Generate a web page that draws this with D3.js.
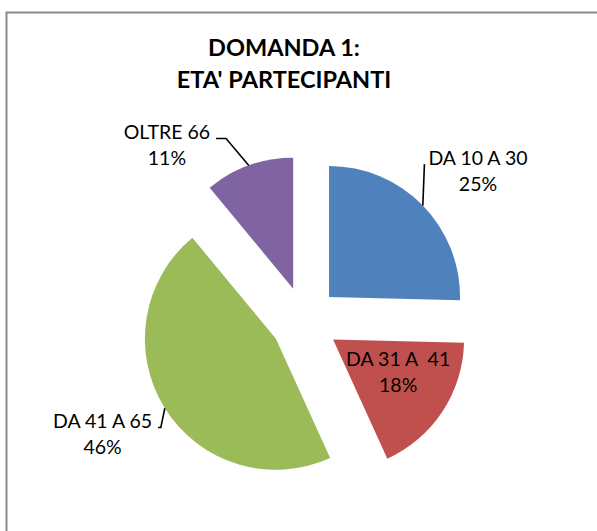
<!DOCTYPE html>
<html>
<head>
<meta charset="utf-8">
<script src="https://cdn.jsdelivr.net/npm/d3@7"></script>
<style>
  html, body { margin: 0; padding: 0; background: #fff; overflow: hidden; }
  text { font-family: Lato, "Open Sans", sans-serif; fill: #000; }
</style>
</head>
<body>
<script>
// Domanda 1: eta' partecipanti (exploded pie)

// data
var categories = ["DA 10 A 30", "DA 31 A  41", "DA 41 A 65", "OLTRE 66"];
var values = [25.4, 17.8, 45.8, 11.0];
var colors = ["#4F81BD", "#C0504D", "#9BBB59", "#8064A2"];
var titleLines = ["DOMANDA 1:", "ETA' PARTECIPANTI"];

// label placement: [angle in degrees, distance from slice tip, leader line?]
var labelPlacement = [
  [49.8, 195, true],
  [116.9, 73, false],
  [241.1, 198, true],
  [318.6, 191, true]
];

var width = 597, height = 531;
var center = [304.7, 320.7],
  radius = 131,
  explode = 34;

var svg = d3.select("body").append("svg")
  .attr("width", width)
  .attr("height", height);

// chart area border (runs past the window on the right and bottom)
svg.append("rect")
  .attr("x", 6.5)
  .attr("y", 12.5)
  .attr("width", 640)
  .attr("height", 560)
  .attr("fill", "#fff")
  .attr("stroke", "#8c8c8c")
  .attr("stroke-width", 2);

// title
svg.append("g").selectAll("text")
  .data(titleLines)
  .enter().append("text")
  .attr("x", 284)
  .attr("y", function (d, i) { return 56 + i * 32; })
  .attr("text-anchor", "middle")
  .attr("font-size", "23.5px")
  .attr("font-weight", "bold")
  .text(function (d) { return d; });

var pie = d3.pie().sort(null).value(function (d) { return d; });
var arcs = pie(values);
var total = d3.sum(values);
var arc = d3.arc().innerRadius(0).outerRadius(radius);

function polar(angle, r) {
  return [Math.sin(angle) * r, -Math.cos(angle) * r];
}

var slices = svg.append("g")
  .attr("transform", "translate(" + center + ")")
  .selectAll("g")
  .data(arcs)
  .enter().append("g")
  .attr("transform", function (d) {
    var mid = (d.startAngle + d.endAngle) / 2;
    return "translate(" + polar(mid, explode) + ")";
  });

slices.append("path")
  .attr("d", arc)
  .attr("fill", function (d, i) { return colors[i]; });

// data labels
var lineGap = 26, capHalf = 7;
slices.each(function (d, i) {
  var g = d3.select(this);
  var p = labelPlacement[i];
  var pos = polar(p[0] * Math.PI / 180, p[1]);
  var pct = Math.round(d.value / total * 100) + "%";
  var lines = [categories[i], pct];
  var texts = g.selectAll("text.lbl")
    .data(lines)
    .enter().append("text")
    .attr("class", "lbl")
    .attr("x", pos[0])
    .attr("y", function (t, j) { return pos[1] + (j - 0.5) * lineGap + capHalf; })
    .attr("text-anchor", "middle")
    .attr("font-size", "19.5px")
    .style("white-space", "pre")
    .attr("xml:space", "preserve")
    .text(function (t) { return t; });

  if (!p[2]) return;
  // leader line from the arc middle to the label side
  var mid = (d.startAngle + d.endAngle) / 2;
  var a = polar(mid, radius);
  var w = texts.nodes()[0].getComputedTextLength();
  var right = pos[0] > a[0];
  var edgeX = right ? pos[0] - w / 2 - 4 : pos[0] + w / 2 + 6;
  var y1 = pos[1] - lineGap / 2 + 6;
  var run = Math.min(10, Math.max(0, Math.abs(a[0] - edgeX) - 4));
  var elbowX = right ? edgeX - run : edgeX + run;
  g.append("path")
    .attr("d", d3.line()([[edgeX, y1], [elbowX, y1], a]))
    .attr("fill", "none")
    .attr("stroke", "#000")
    .attr("stroke-width", 1.6);
});
</script>
</body>
</html>
